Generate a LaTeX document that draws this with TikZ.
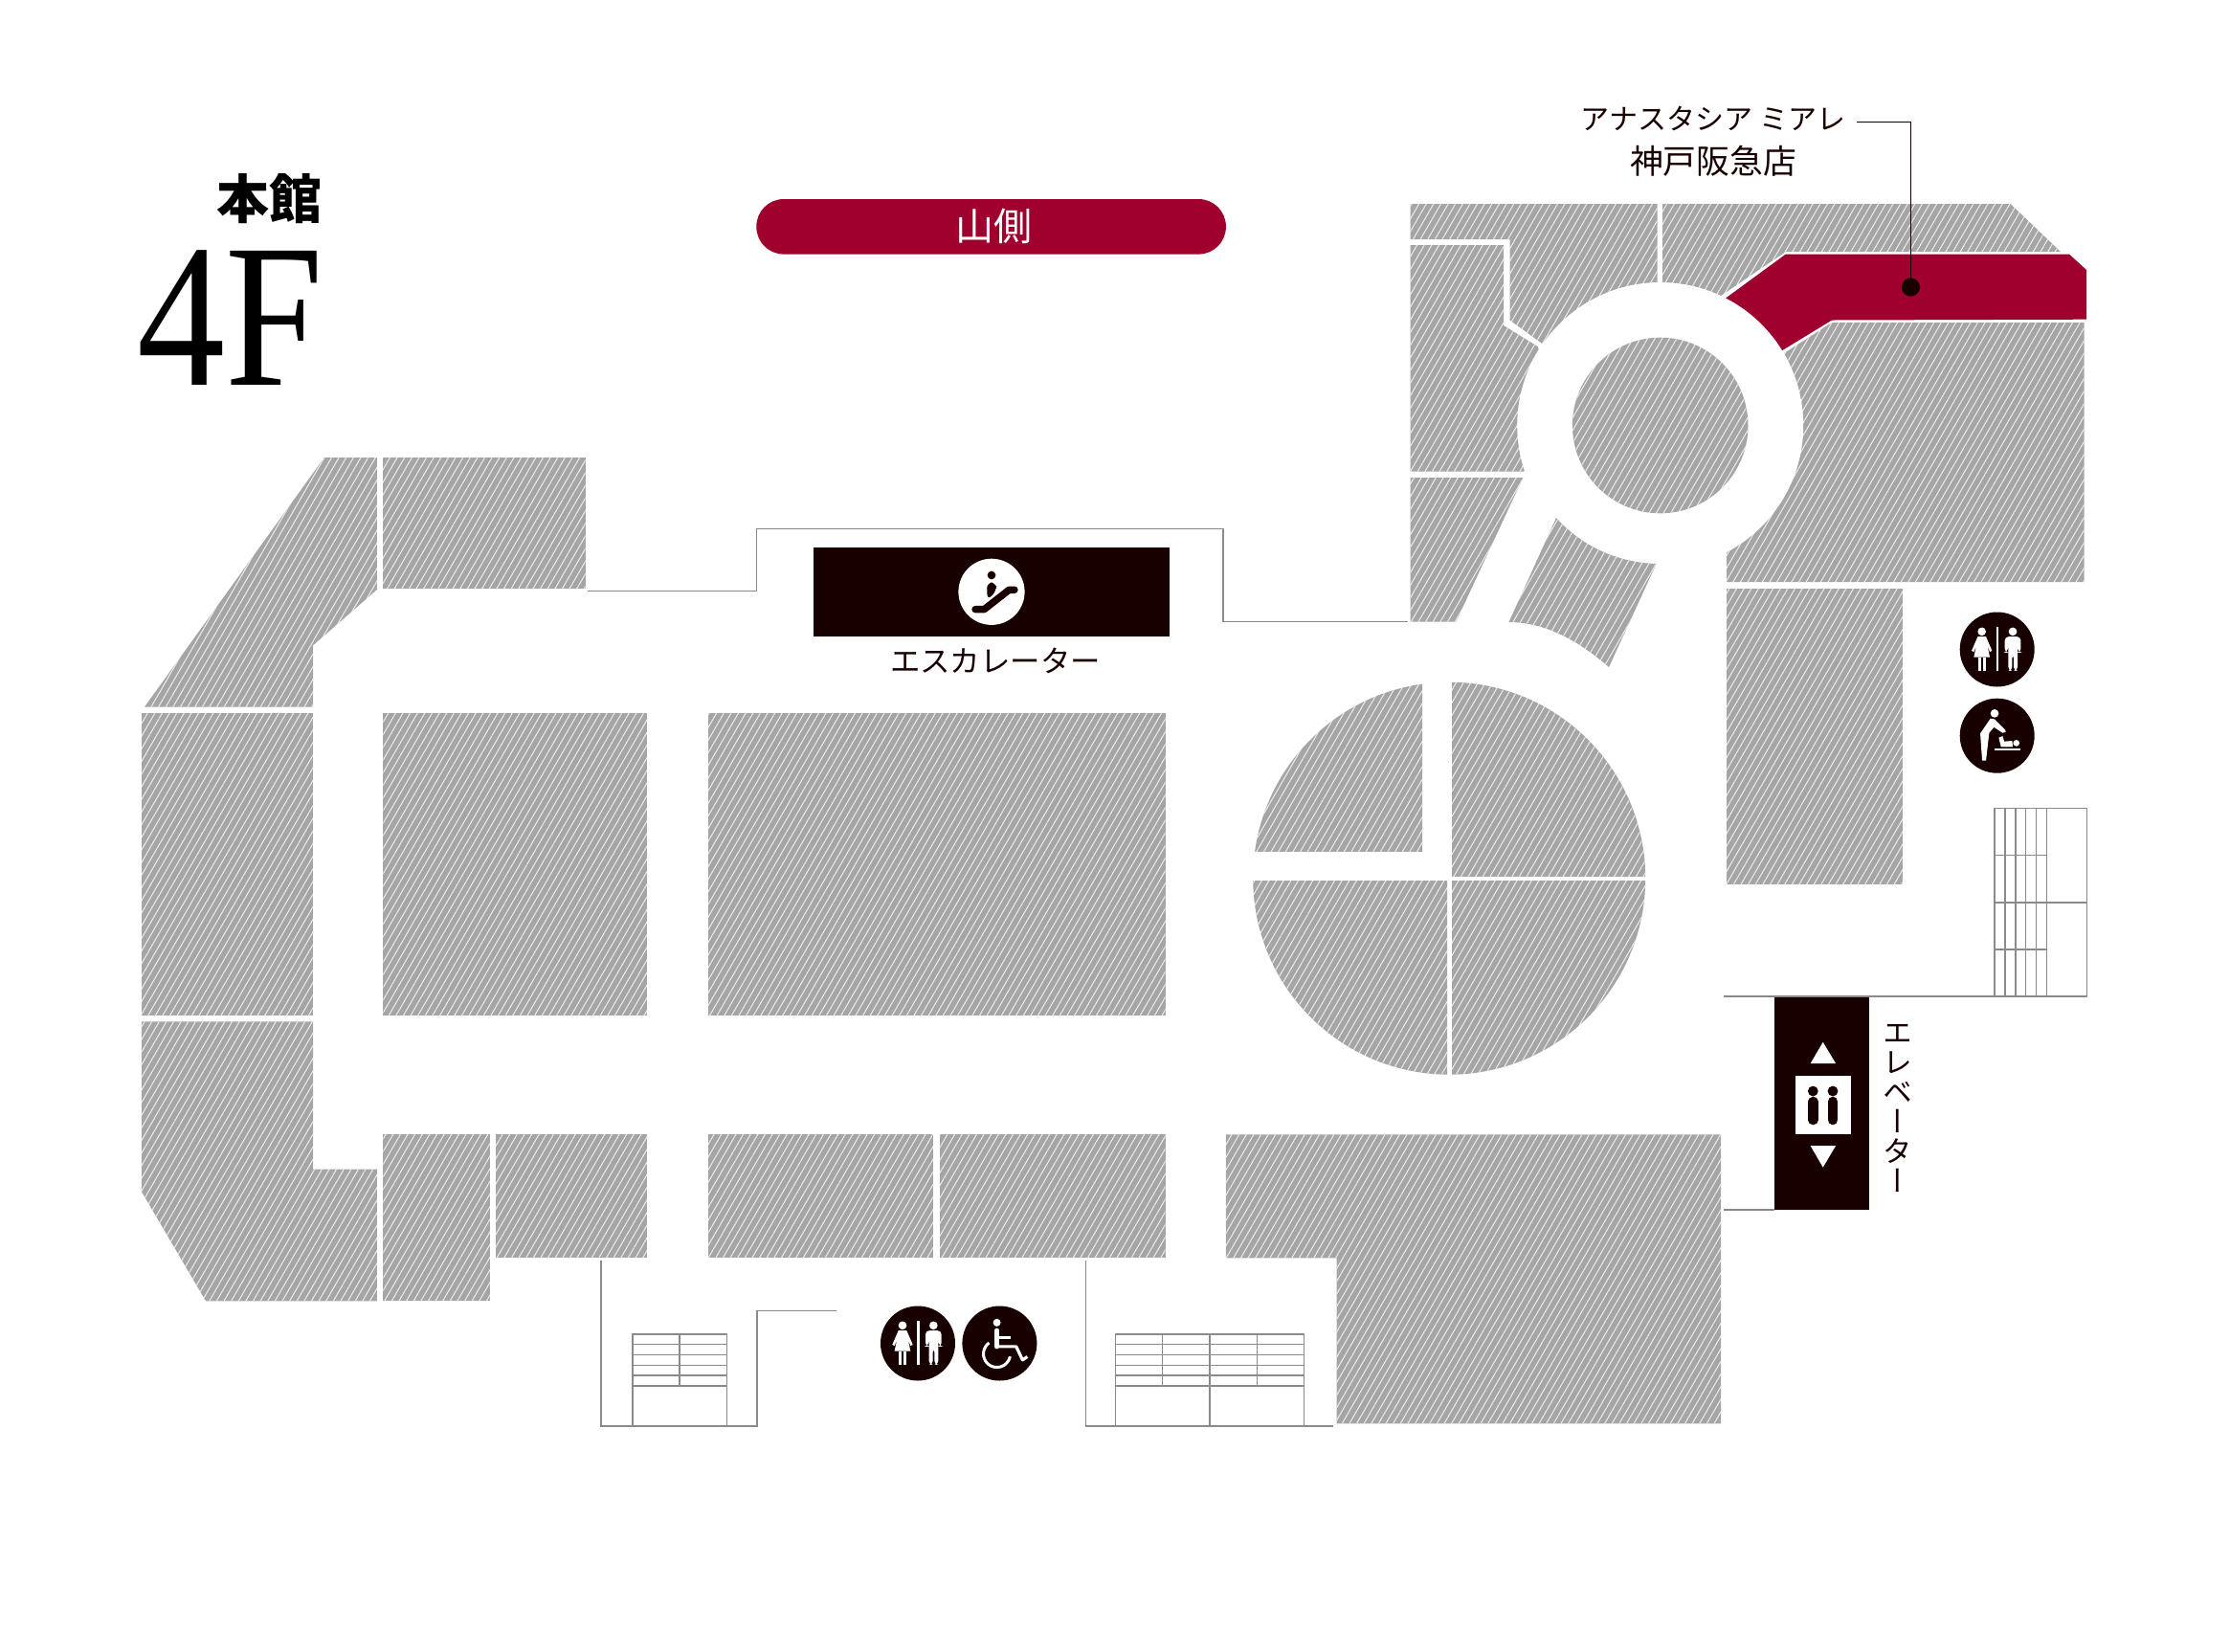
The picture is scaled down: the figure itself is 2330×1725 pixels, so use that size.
\documentclass[tikz,border=0pt]{standalone}
\usepackage{fontspec}
\usepackage{graphicx}
\usetikzlibrary{patterns.meta}
\setmainfont{Liberation Serif}
\newfontfamily\cjk{Noto Sans CJK JP}
\newfontfamily\cjkv[RawFeature=+vert]{Noto Sans CJK JP}
\definecolor{shopgray}{HTML}{A5A5A5}
\definecolor{hatchline}{HTML}{EDEDED}
\definecolor{crim}{HTML}{A0002D}
\definecolor{ink}{HTML}{180000}
\definecolor{wallgray}{HTML}{8A8A8A}
\tikzset{
  shop/.style={fill=shopgray,postaction={pattern={Lines[angle=60,distance=3.3pt,line width=0.5pt]},pattern color=hatchline}},
  wall/.style={draw=wallgray,line width=0.75pt},
  label/.style={text=ink,inner sep=0pt,font=\cjk},
  icondisc/.style={circle,fill=ink,inner sep=0pt,minimum size=39pt},
  escdisc/.style={circle,fill=white,inner sep=0pt,minimum size=34.6pt}
}
\newcommand{\fsz}[1]{\fontsize{#1}{#1}\selectfont}
\newcommand{\glyphrest}[2]{%
\begin{scope}[shift={(#1,#2)},scale=1/3]
 \fill[white] (-48,-56) circle[radius=13];
 \fill[white] (-61,-40)--(-35,-40)--(-16,4)--(-23,8)--(-31,-13)--(-23,24)--(-73,24)--(-65,-13)--(-73,8)--(-80,4)--cycle;
 \fill[white] (-60,24) rectangle (-51,67);
 \fill[white] (-45,24) rectangle (-36,67);
 \fill[white] (-3,-70) rectangle (5,67);
 \fill[white] (49,-56) circle[radius=13];
 \fill[white,rounded corners=2pt] (24,-40)--(74,-40)--(74,10)--(66,10)--(64,-15)--(64,67)--(52,67)--(52,15)--(47,15)--(47,67)--(35,67)--(35,-15)--(32,10)--(24,10)--cycle;
\end{scope}}
\newcommand{\glyphbaby}[2]{%
\begin{scope}[shift={(#1,#2)},scale=1/3]
 \fill[white] (-8,-70) circle[radius=13];
 \fill[white] (-53,-7)--(-21,-54)--(-8,-52)--(25,-19)--(27,-12)--(17,-9)--(-10,-27)--(-25,-9)--(-35,78)--(-47,78)--cycle;
 \fill[white] (60,23) circle[radius=10];
 \fill[white] (5,6)--(17,1)--(22,18)--(47,16)--(49,35)--(12,35)--cycle;
 \fill[white] (-8,41) rectangle (72,47);
\end{scope}}
\newcommand{\glyphwheel}[2]{%
\begin{scope}[shift={(#1,#2)},scale=1/3]
 \fill[white] (-8.5,-65) circle[radius=12];
 \draw[white,line width=2.6pt,line cap=round] (-8.5,-40)--(-8.5,10);
 \draw[white,line width=1.5pt] (-8.5,-18)--(35,-18);
 \draw[white,line width=1.6pt,line join=round] (-8.5,10)--(52,10)--(72,52)--(87,42);
 \draw[white,line width=1.5pt] plot[domain=125:349,samples=40] ({-8.5+42*cos(\x)},{33-42*sin(\x)});
\end{scope}}
\newcommand{\glyphesc}[2]{%
\begin{scope}[shift={(#1,#2)},scale=1/3]
 \fill[ink] (0,-52) circle[radius=13];
 \fill[ink,rounded corners=3pt] (-15,-29)--(15,-29)--(15,-2)--(-13,26)--cycle;
 \draw[ink,line width=3.7pt,line cap=round,line join=round] (-51,55)--(-23,55)--(55,-6)--(72,-6);
\end{scope}}
\begin{document}
\begin{tikzpicture}[x=0.5pt,y=-0.5pt]
\useasboundingbox (0,0) rectangle (2330,1725);
% north-east block
\path[shop] (1473.5,213)--(1731.6,213)--(1731.6,310)--(1610.7,358.6)--(1577.5,334.5)--(1577.5,250)--(1473.5,250)--cycle;
\path[shop] (1473.5,256)--(1571,256)--(1571,340)--(1606.6,362)--(1640,450)--(1592,492.5)--(1473.5,492.5)--cycle;
\path[shop] (1473.5,499)--(1591.3,499)--(1521.4,649.5)--(1473.5,649.5)--cycle;
\path[shop] (1737.2,213)--(2100.5,213)--(2153,263)--(1865.8,263)--(1798,309)--(1737.2,320)--cycle;
\fill[crim] (1802,312.3)--(1865.8,265.6)--(2162,265.6)--(2180,282)--(2180,333.7)--(1914,334.5)--(1860.7,367)--cycle;
\path[shop] (1914,337)--(2177.6,337)--(2177.6,608)--(1804,608)--(1804,500)--(1840,400)--(1864,369)--cycle;
\fill[white] (1734.7,444.5) circle[radius=149.5];
\path[shop] (1734.7,444.5) circle[radius=91.8];
\path[shop] (1626,541) .. controls (1652.6,570.9) and (1690.6,587.9) .. (1730.6,589)--(1681,697) .. controls (1650,670) and (1615,650) .. (1576.5,650)--cycle;
\path[shop] (1804,615) rectangle (1988,923.6);
% west block
\path[shop] (338.8,478)--(393.9,478)--(393.9,616)--(327,674.3)--(327,738.6)--(151,738.6)--cycle;
\path[shop] (400,478) rectangle (611.7,615);
\path[shop] (147.9,745) rectangle (327.1,1061);
\path[shop] (400.4,745) rectangle (676.4,1061);
\path[shop] (739.5,745) rectangle (1217.6,1061);
\path[shop] (147.9,1067.3)--(327.1,1067.3)--(327.1,1221.7)--(393.9,1221.7)--(393.9,1359.3)--(215,1359.3)--(147.9,1245)--cycle;
\path[shop] (400.4,1185.3) rectangle (511.8,1359.3);
\path[shop] (517.9,1185.3) rectangle (676.4,1314.3);
\path[shop] (739.8,1185.3) rectangle (975,1314.3);
\path[shop] (981.6,1185.3) rectangle (1217.6,1314.3);
\path[shop] (1280.8,1185.3)--(1798,1185.3)--(1798,1487.3)--(1396.7,1487.3)--(1396.7,1314.3)--(1280.8,1314.3)--cycle;
% round block
\begin{scope}\clip (1300,700) rectangle (1486,889.3);
\path[shop] (1514.2,917.7) circle[radius=205];\end{scope}
\begin{scope}\clip (1517,700) rectangle (1730,915.7);
\path[shop] (1514.2,917.7) circle[radius=205];\end{scope}
\begin{scope}\clip (1300,920.7) rectangle (1512,1130);
\path[shop] (1514.2,917.7) circle[radius=205];\end{scope}
\begin{scope}\clip (1517,920.7) rectangle (1730,1130);
\path[shop] (1514.2,917.7) circle[radius=205];\end{scope}
% walls
\draw[wall] (614.3,617.7)--(790.3,617.7)--(790.3,552.5)--(1278,552.5)--(1278,649.5)--(1471,649.5);
\draw[wall] (1800.8,1041)--(2084,1041);
\draw[wall] (1800.8,1263.8)--(1854,1263.8);
\draw[wall] (628.2,1317.3)--(628.2,1490)--(790.8,1490)--(790.8,1369.3)--(873.7,1369.3);
\draw[wall] (1134.4,1317.3)--(1134.4,1490)--(1393,1490);
% stairs, east
\draw[wall] (2084,844.5) rectangle (2180.7,1041);
\foreach \vx in {2095,2106,2116.7,2127.3,2138.3} \draw[wall] (\vx,844.5)--(\vx,1041);
\draw[wall] (2084,893.7)--(2138.3,893.7);
\draw[wall] (2084,942.8)--(2180.7,942.8);
\draw[wall] (2084,991.9)--(2138.3,991.9);
% stairs, south-west
\draw[wall] (661.2,1394) rectangle (759.3,1490);
\foreach \hy in {1404.7,1415.7,1426.3,1437,1448} \draw[wall] (661.2,\hy)--(759.3,\hy);
\draw[wall] (710,1394)--(710,1448);
% stairs, south-east
\draw[wall] (1165.3,1394) rectangle (1362.6,1490);
\foreach \hy in {1404.7,1415.7,1426.3,1437,1448} \draw[wall] (1165.3,\hy)--(1362.6,\hy);
\foreach \vx in {1214.6,1313.3} \draw[wall] (\vx,1394)--(\vx,1448);
\draw[wall] (1264,1394)--(1264,1490);
% headings
\node[inner sep=0pt,text=black,font=\cjk\bfseries\fsz{27.5}] (wing) at (281,208) {本館};
\node[inner sep=0pt,text=black,anchor=base,font=\fsz{107}] (floor) at (241,402) {\scalebox{.86}[1]{4F}};
\node[rounded corners=14.3pt,fill=crim,minimum width=245.3pt,minimum height=28.8pt,inner sep=0pt,text=white,font=\cjk\fsz{20}] (side) at (1035.6,236.8) {\hspace*{3pt}山側};
% shop label and leader
\node[label,font=\cjk\fsz{15}] (shopa) at (1790,124) {アナスタシア ミアレ};
\node[label,font=\cjk\fsz{17.4}] (shopb) at (1790,168) {神戸阪急店};
\node[circle,fill=ink,inner sep=0pt,minimum size=9.6pt] (pin) at (1996.4,300) {};
\coordinate (leadstart) at (1940,127.5);
\coordinate (leadbend) at (1996.4,127.5);
\draw[ink,line width=0.5pt] (leadstart)--(leadbend)--(pin.center);
% escalator
\node[fill=ink,inner sep=0pt,minimum width=185.8pt,minimum height=46.6pt] (escbox) at (1035.8,618.4) {};
\node[escdisc] (escicon) at (1036,618.3) {};
\glyphesc{1036}{618.3}
\node[label,font=\cjk\fsz{15.7}] (esclabel) at (1040,690.5) {エスカレーター};
% elevator
\node[fill=ink,inner sep=0pt,minimum width=49.4pt,minimum height=111pt] (elvbox) at (1903.4,1152.8) {};
\node[fill=white,inner sep=0pt,minimum width=29.3pt,minimum height=30.5pt] (elvplate) at (1905,1154.2) {};
\fill[white] (1904.7,1088.8)--(1918,1111)--(1891.7,1111)--cycle;
\fill[white] (1904.7,1219.6)--(1918,1197.2)--(1891.7,1197.2)--cycle;
\fill[ink] (1894.3,1140) circle[radius=5.4] (1915,1140) circle[radius=5.4];
\draw[ink,line width=5.3pt,line cap=round] (1894.3,1151)--(1894.3,1170) (1915,1151)--(1915,1170);
\node[text=ink,inner sep=0pt,align=center,font=\cjkv\fsz{15.5}] (elvlabel) at (1982.5,1158) {\fontsize{15.5}{16.2}\selectfont エ\\レ\\ベ\\ー\\タ\\ー};
% pictograms
\node[icondisc] (wc1) at (2086.7,678.5) {};
\glyphrest{2086.7}{678.5}
\node[icondisc] (baby) at (2086.7,768.7) {};
\glyphbaby{2086.7}{768.7}
\node[icondisc] (wc2) at (959,1403.5) {};
\glyphrest{959}{1403.5}
\node[icondisc] (wheel) at (1044.4,1403.5) {};
\glyphwheel{1044.4}{1403.5}
\end{tikzpicture}
\end{document}
